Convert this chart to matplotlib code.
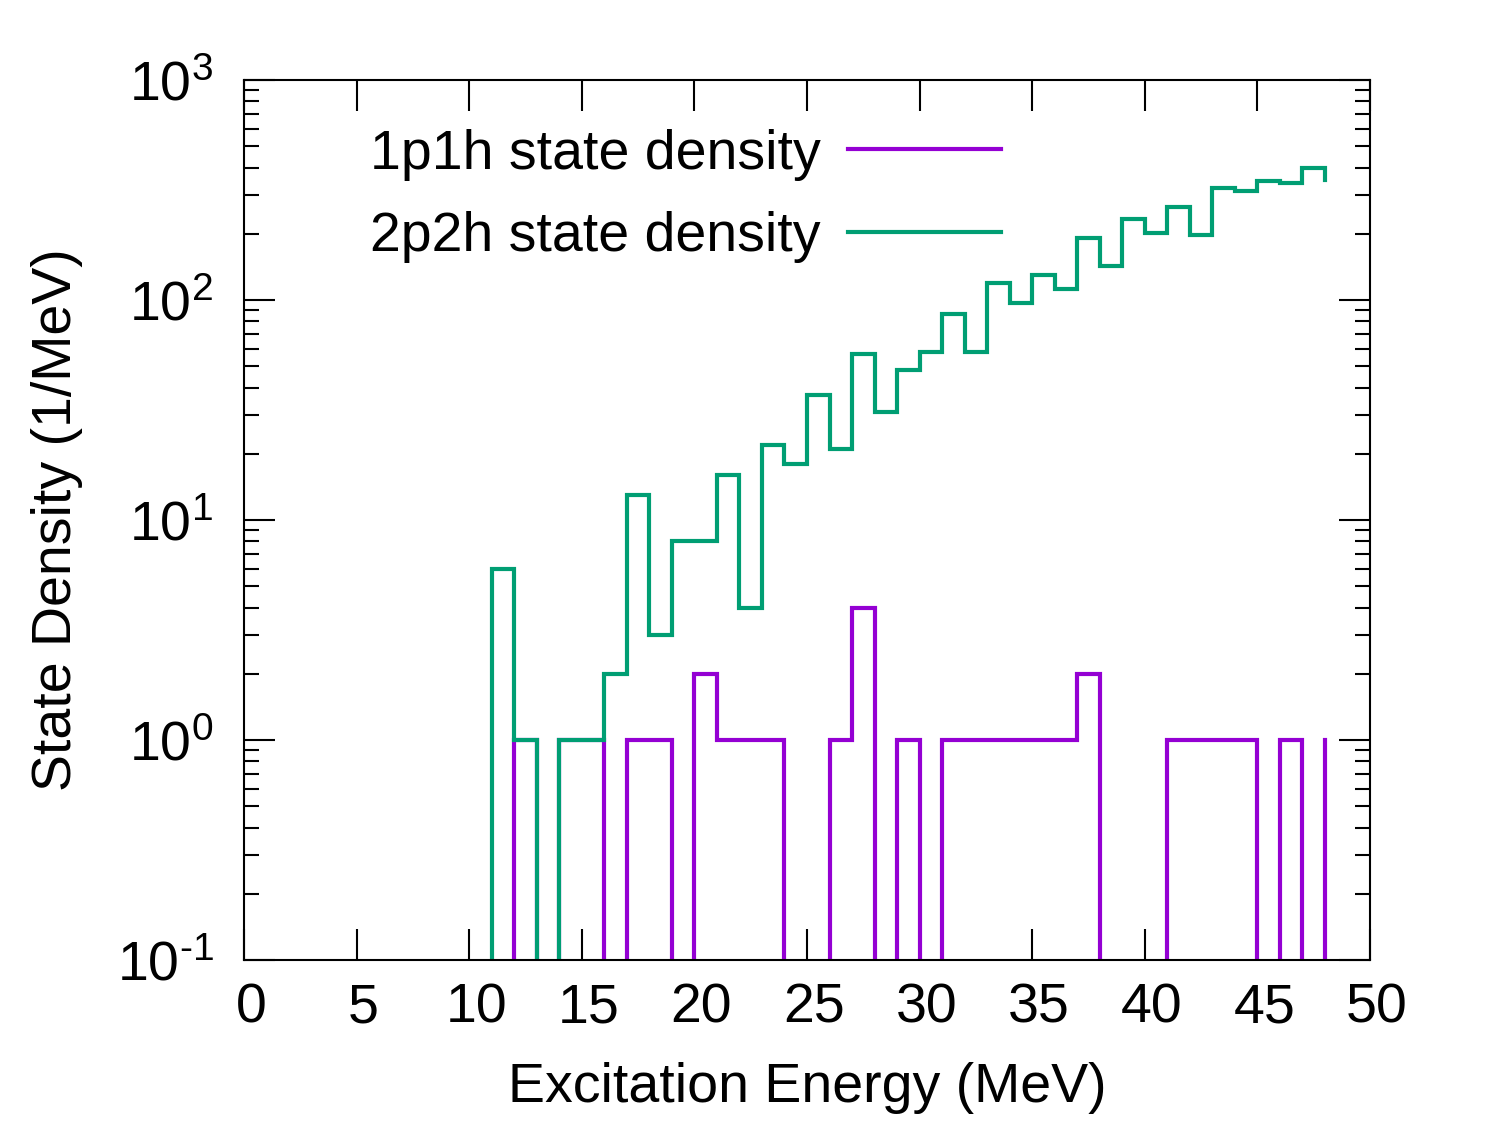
import numpy as np
import matplotlib
matplotlib.use("Agg")
import matplotlib.pyplot as plt
from matplotlib.ticker import LogLocator, FixedLocator, NullFormatter, FuncFormatter
from matplotlib.transforms import ScaledTranslation

plt.rcParams['font.family'] = ['Liberation Sans', 'DejaVu Sans']
plt.rcParams['mathtext.fontset'] = 'custom'
plt.rcParams['mathtext.rm'] = 'Liberation Sans'
plt.rcParams['mathtext.it'] = 'Liberation Sans'

# excitation energy (left bin edge, MeV)
energy = np.arange(0, 49)

# 1p1h state density (1/MeV), values from x = 0..48
p1h = [0]*12 + [1, 0, 1, 1, 0, 1, 1, 0, 2, 1, 1, 1, 0, 0, 1, 4, 0, 1, 0,
                1, 1, 1, 1, 1, 1, 2, 0, 0, 0, 1, 1, 1, 1, 0, 1, 0, 1]

# 2p2h state density (1/MeV)
p2h = [0]*11 + [6, 1, 0, 1, 1, 2, 13, 3, 8, 8, 16, 4, 22, 18, 37, 21, 57, 31,
                48, 58, 86, 58, 120, 97, 130, 112, 192, 143, 233, 201, 266,
                197, 323, 314, 349, 340, 397, 351]

labels = ['1p1h state density', '2p2h state density']
colors = ['#9400D3', '#009E73']

fs = 40

fig = plt.figure(figsize=(14.95, 11.21), dpi=100)
ax = fig.add_axes([0.1632, 0.1436, 0.9164 - 0.1632, 0.9286 - 0.1436])

for y, lab, c in zip([p1h, p2h], labels, colors):
    y = np.array(y, dtype=float)
    y = np.where(y > 0, y, 1e-4)  # zeros fall below the axis
    ax.step(energy, y, where='post', color=c, lw=3, label=lab,
            solid_joinstyle='miter')

ax.set_yscale('log')
ax.set_xlim(0, 50)
ax.set_ylim(0.1, 1000)


def exp_label(v, p):
    e = int(round(np.log10(v)))
    if e < 0:
        return r'$10^{\text{-}%d}$' % (-e)
    return r'$10^{%d}$' % e


ax.xaxis.set_major_locator(FixedLocator(np.arange(0, 51, 5)))
ax.yaxis.set_major_locator(LogLocator(base=10, numticks=10))
ax.yaxis.set_minor_locator(LogLocator(base=10, subs=np.arange(2, 10), numticks=10))
ax.yaxis.set_minor_formatter(NullFormatter())
ax.yaxis.set_major_formatter(FuncFormatter(exp_label))

ax.tick_params(which='both', direction='in', top=True, right=True, width=1.5, labelsize=fs)
ax.tick_params(which='major', length=22)
ax.tick_params(which='minor', length=11)
ax.tick_params(axis='x', pad=16)
ax.tick_params(axis='y', pad=22)
for s in ax.spines.values():
    s.set_linewidth(1.5)

# gnuplot puts the x tick numbers a little to the right
shift = ScaledTranslation(7 / 100, 0, fig.dpi_scale_trans)
for lbl in ax.get_xticklabels():
    lbl.set_transform(lbl.get_transform() + shift)

ax.set_xlabel('Excitation Energy (MeV)', fontsize=fs, labelpad=20)
ax.set_ylabel('State Density (1/MeV)', fontsize=fs, labelpad=24)

ax.legend(loc='upper right', bbox_to_anchor=(0.692, 0.97), frameon=False,
          markerfirst=False, fontsize=fs, handlelength=2.75, handletextpad=0.5,
          labelspacing=0.55, borderaxespad=0)

fig.savefig('out.png', dpi=100)
